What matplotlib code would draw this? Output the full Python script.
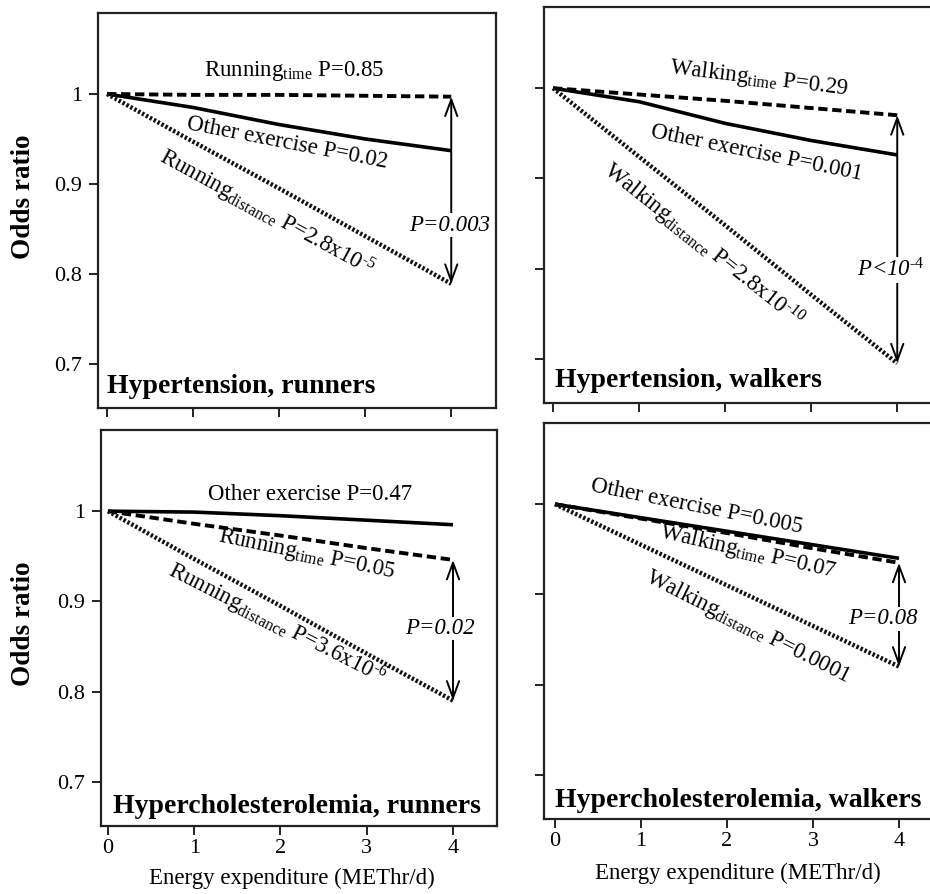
import matplotlib
matplotlib.use("Agg")
import matplotlib.pyplot as plt

plt.rcParams['font.family'] = ['Liberation Serif', 'DejaVu Serif']
plt.rcParams['mathtext.fontset'] = 'custom'
plt.rcParams['mathtext.rm'] = 'Liberation Serif'
plt.rcParams['mathtext.it'] = 'Liberation Serif:italic'
plt.rcParams['mathtext.bf'] = 'Liberation Serif:bold'

# ---------------- data ----------------
energy = [0, 1, 2, 3, 4]
x_ticks = [0, 1, 2, 3, 4]
y_ticks = [0.7, 0.8, 0.9, 1.0]
y_ticklabels = ["0.7", "0.8", "0.9", "1"]

panel_titles = ["Hypertension, runners", "Hypertension, walkers",
                "Hypercholesterolemia, runners", "Hypercholesterolemia, walkers"]

# Hypertension, runners
htr_time = [1.000, 0.999, 0.999, 0.998, 0.997]
htr_other = [1.000, 0.985, 0.966, 0.950, 0.937]
htr_dist = [1.000, 0.947, 0.895, 0.842, 0.789]
# Hypertension, walkers
htw_time = [1.000, 0.993, 0.986, 0.978, 0.970]
htw_other = [1.000, 0.985, 0.961, 0.942, 0.926]
htw_dist = [1.000, 0.924, 0.848, 0.771, 0.695]
# Hypercholesterolemia, runners
hcr_other = [1.000, 0.999, 0.995, 0.990, 0.985]
hcr_time = [1.000, 0.986, 0.973, 0.959, 0.946]
hcr_dist = [1.000, 0.947, 0.895, 0.842, 0.790]
# Hypercholesterolemia, walkers
hcw_other = [1.000, 0.985, 0.970, 0.955, 0.940]
hcw_time = [1.000, 0.984, 0.968, 0.951, 0.935]
hcw_dist = [1.000, 0.955, 0.910, 0.865, 0.820]

# line labels (text)
htr_labels = [r"Running$_{\mathrm{time}}$ P=0.85", "Other exercise P=0.02",
              r"Running$_{\mathrm{distance}}$ P=2.8x10$^{\text{-5}}$"]
htw_labels = [r"Walking$_{\mathrm{time}}$ P=0.29", "Other exercise P=0.001",
              r"Walking$_{\mathrm{distance}}$ P=2.8x10$^{\text{-10}}$"]
hcr_labels = ["Other exercise P=0.47", r"Running$_{\mathrm{time}}$ P=0.05",
              r"Running$_{\mathrm{distance}}$ P=3.6x10$^{\text{-6}}$"]
hcw_labels = ["Other exercise P=0.005", r"Walking$_{\mathrm{time}}$ P=0.07",
              r"Walking$_{\mathrm{distance}}$ P=0.0001"]
p_diff = ["P=0.003", r"P<10$^{\text{-4}}$", "P=0.02", "P=0.08"]

# ---------------- layout ----------------
W, H = 930, 894
fig = plt.figure(figsize=(W / 100, H / 100), dpi=100)

def rect(l, r, t, b):
    return [l / W, 1 - b / H, (r - l) / W, (b - t) / H]

axes_rects = [rect(98, 496, 13, 408), rect(544, 942, 7, 403),
              rect(101, 497, 430, 826), rect(544, 942, 423, 819)]
xlims = [(-0.105, 4.52), (-0.105, 4.52), (-0.081, 4.51), (-0.128, 4.5)]
ylim = (0.651, 1.09)

SOLID = dict(color='black', lw=2.6, ls='-', solid_capstyle='butt')
DASH = dict(color='black', lw=2.8, ls=(0, (2.4, 1.2)))
DOT = dict(color='#111111', lw=3.2, ls=(0, (0.55, 0.45)))

panels = [
    dict(series=[(htr_time, DASH), (htr_other, SOLID), (htr_dist, DOT)],
         labels=htr_labels,
         label_pos=[(2.17, 1.025, 0), (2.09, 0.945, -11), (1.86, 0.867, -28.6)],
         arrow=(htr_time, htr_dist), ppos=(3.98, 0.854)),
    dict(series=[(htw_time, DASH), (htw_other, SOLID), (htw_dist, DOT)],
         labels=htw_labels,
         label_pos=[(2.39, 1.011, -6.9), (2.36, 0.928, -11.5), (1.74, 0.826, -38.5)],
         arrow=(htw_time, htw_dist), ppos=(3.92, 0.798)),
    dict(series=[(hcr_other, SOLID), (hcr_time, DASH), (hcr_dist, DOT)],
         labels=hcr_labels,
         label_pos=[(2.34, 1.018, 0), (2.30, 0.952, -11.7), (1.96, 0.875, -27)],
         arrow=(hcr_time, hcr_dist), ppos=(3.85, 0.870)),
    dict(series=[(hcw_other, SOLID), (hcw_time, DASH), (hcw_dist, DOT)],
         labels=hcw_labels,
         label_pos=[(1.65, 0.997, -11.2), (2.24, 0.947, -12.8), (2.24, 0.864, -26.7)],
         arrow=(hcw_time, hcw_dist), ppos=(3.81, 0.873)),
]
title_pos = [(0.023, 0.038), (0.028, 0.040), (0.030, 0.033), (0.028, 0.030)]

for i, (r, p) in enumerate(zip(axes_rects, panels)):
    ax = fig.add_axes(r)
    ax.set_xlim(*xlims[i])
    ax.set_ylim(*ylim)
    for s in ax.spines.values():
        s.set_linewidth(1.6)
        s.set_color('#222222')
    ax.set_xticks(x_ticks)
    ax.set_yticks(y_ticks)
    ax.tick_params(direction='out', length=6.5, width=1.4, labelsize=16, color='#222222')
    ax.tick_params(axis='y', pad=5)
    ax.tick_params(axis='x', pad=3)
    if i % 2 == 0:
        ax.set_yticklabels(y_ticklabels)
    else:
        ax.set_yticklabels([])
    if i >= 2:
        ax.set_xticklabels([str(v) for v in x_ticks])
    else:
        ax.set_xticklabels([])

    for vals, style in p['series']:
        ax.plot(energy, vals, **style, zorder=3)

    for txt, (lx, ly, rot) in zip(p['labels'], p['label_pos']):
        ax.text(lx, ly, txt, fontsize=16.5, rotation=rot, rotation_mode='anchor',
                ha='center', va='center', zorder=4)

    top, bot = p['arrow']
    ax.annotate('', xy=(energy[-1], bot[-1]), xytext=(energy[-1], top[-1]),
                arrowprops=dict(arrowstyle='<->,head_length=0.6,head_width=0.22',
                                mutation_scale=20, lw=1.4, color='black',
                                shrinkA=0, shrinkB=0), zorder=5)
    px, py = p['ppos']
    ax.text(px, py, p_diff[i], fontsize=16.5, style='italic', ha='center', va='center',
            zorder=6, bbox=dict(facecolor='white', edgecolor='none', pad=1))

    tx, ty = title_pos[i]
    ax.text(tx, ty, panel_titles[i], transform=ax.transAxes, fontsize=20,
            fontweight='bold', ha='left', va='baseline', zorder=6)

# axis labels
fig.text(23 / W, 1 - 197 / H, "Odds ratio", rotation=90, fontsize=19.5,
         fontweight='bold', ha='center', va='center')
fig.text(23 / W, 1 - 624 / H, "Odds ratio", rotation=90, fontsize=19.5,
         fontweight='bold', ha='center', va='center')
fig.text(292 / W, 1 - 878 / H, "Energy expenditure (METhr/d)", fontsize=16.5,
         ha='center', va='center')
fig.text(738 / W, 1 - 873 / H, "Energy expenditure (METhr/d)", fontsize=16.5,
         ha='center', va='center')

fig.savefig("out.png", dpi=100)
